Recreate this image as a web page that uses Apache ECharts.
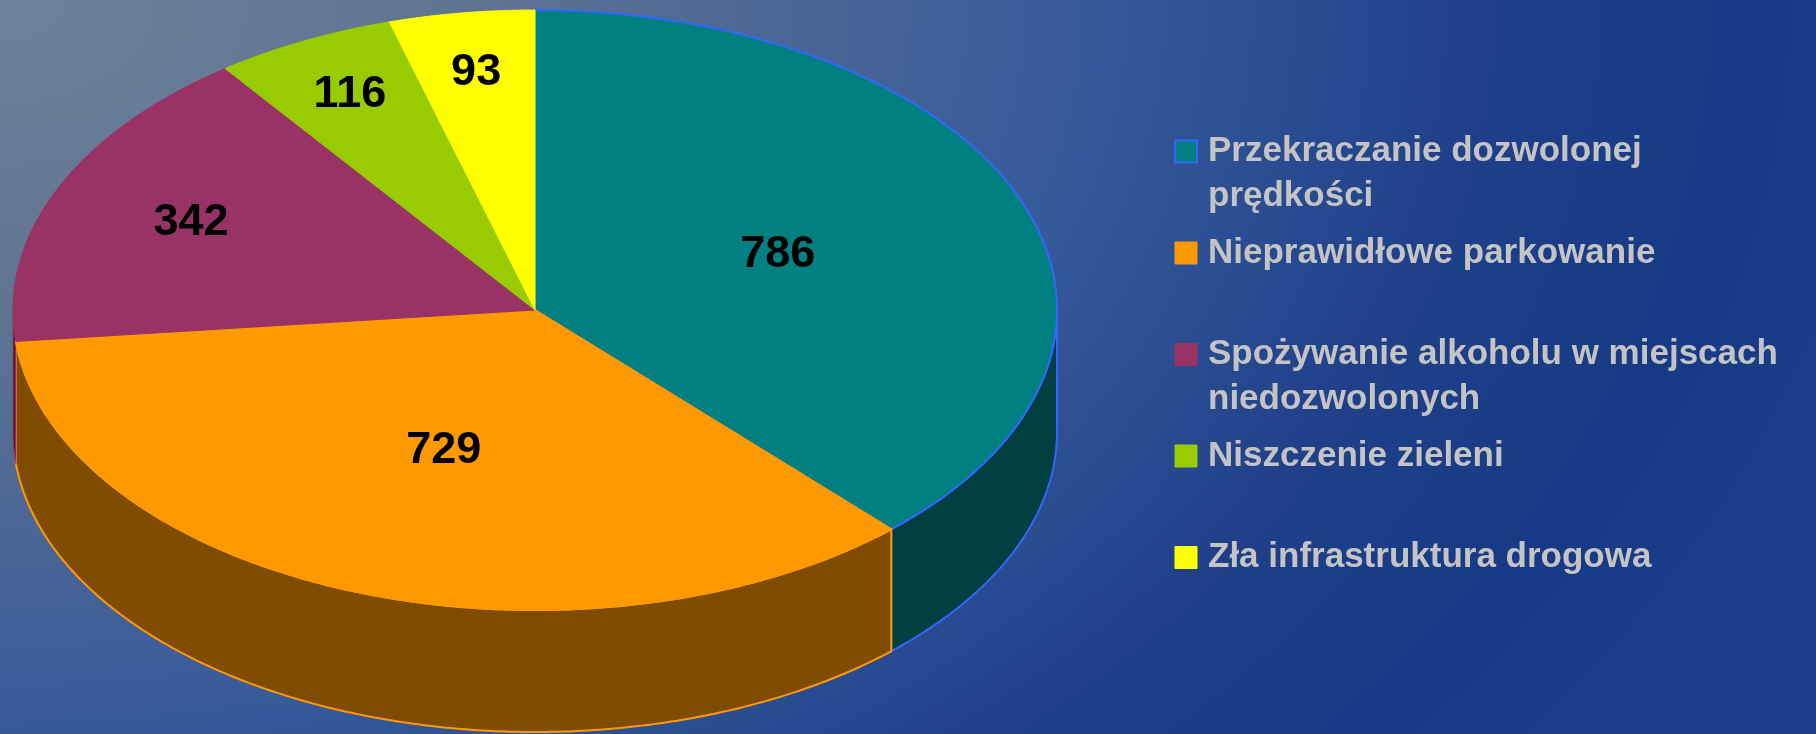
<!DOCTYPE html>
<html>
<head>
<meta charset="utf-8">
<title>Wykroczenia</title>
<script src="https://cdn.jsdelivr.net/npm/echarts@6/dist/echarts.min.js"></script>
<style>
  html, body { margin: 0; padding: 0; overflow: hidden; }
  #chart {
    width: 1816px;
    height: 734px;
    background: radial-gradient(ellipse 1900px 1270px at 0 0,
      #6d819b 0%, #5f7492 25%, #36599a 58%, #1f4089 78%, #163a85 92%, #1b3d8a 100%);
  }
</style>
</head>
<body>
<div id="chart"></div>
<script>
// dane wykresu
const categories = [
  'Przekraczanie dozwolonej\nprędkości',
  'Nieprawidłowe parkowanie',
  'Spożywanie alkoholu w miejscach\nniedozwolonych',
  'Niszczenie zieleni',
  'Zła infrastruktura drogowa'
];
const values = [786, 729, 342, 116, 93];

// kolory: wierzch, bok, krawędź
const topColors = ['#008080', '#FF9900', '#993366', '#99CC00', '#FFFF00'];
const sideColors = ['#004040', '#804C00', '#4D1A33', '#4D6600', '#808000'];
const edgeColors = ['#3366FF', '#FF9900', '#993366', '#99CC00', '#FFFF00'];
const labelRadius = [0.5, 0.5, 0.72, 0.8, 0.8];

// geometria pochylonego tortu (px)
const CX = 535, CY = 310, RX = 522, RY = 300, DEPTH = 122;

const total = values.reduce((s, v) => s + v, 0);
const starts = values.map((_, i) =>
  values.slice(0, i).reduce((s, v) => s + v, 0) / total * Math.PI * 2);

const pt = (t, dy) => [CX + RX * Math.sin(t), CY - RY * Math.cos(t) + dy];
const arc = (t0, t1, dy) => {
  const n = Math.max(2, Math.ceil((t1 - t0) / (Math.PI / 360)));
  const out = [];
  for (let k = 0; k <= n; k++) out.push(pt(t0 + (t1 - t0) * k / n, dy));
  return out;
};

const makeRenderItem = (i) => (params, api) => {
  const t0 = starts[i];
  const t1 = t0 + api.value(0) / total * Math.PI * 2;
  const lw = i < 2 ? 2 : 1;
  const children = [];
  // bok widoczny tylko w przedniej połowie
  const s0 = Math.max(t0, Math.PI / 2), s1 = Math.min(t1, Math.PI * 1.5);
  if (s1 > s0) {
    const up = arc(s0, s1, 0);
    const down = arc(s0, s1, DEPTH).reverse();
    children.push({
      type: 'polygon', z2: 1,
      shape: { points: up.concat(down) },
      style: { fill: sideColors[i], stroke: edgeColors[i], lineWidth: lw }
    });
  }
  children.push({
    type: 'polygon', z2: 2,
    shape: { points: [[CX, CY]].concat(arc(t0, t1, 0)) },
    style: { fill: topColors[i], stroke: edgeColors[i], lineWidth: lw }
  });
  const tm = (t0 + t1) / 2, r = labelRadius[i];
  children.push({
    type: 'text', z2: 3,
    x: CX + RX * r * Math.sin(tm),
    y: CY - RY * r * Math.cos(tm),
    style: {
      text: String(api.value(0)),
      fill: '#000', fontSize: 45, fontWeight: 'bold',
      fontFamily: 'Liberation Sans, Arial, sans-serif',
      align: 'center', verticalAlign: 'middle'
    }
  });
  return { type: 'group', children };
};

const chart = echarts.init(document.getElementById('chart'));
chart.setOption({
  animation: false,
  legend: {
    orient: 'vertical',
    left: 1174, top: 84,
    padding: 0,
    itemGap: -33.5,
    itemWidth: 22, itemHeight: 22,
    icon: 'rect',
    selectedMode: false,
    data: categories.map((name, i) => ({
      name,
      itemStyle: {
        color: topColors[i],
        borderColor: edgeColors[i],
        borderWidth: i === 0 ? 2 : 1
      }
    })),
    // pierwsza linia opisu wyrównana z kwadratem
    formatter: (name) => '\n' + name + (name.indexOf('\n') < 0 ? '\n' : ''),
    textStyle: {
      color: '#C4C4C4', fontSize: 35, fontWeight: 'bold',
      fontFamily: 'Liberation Sans, Arial, sans-serif',
      lineHeight: 45, padding: [0, 0, 0, 6]
    }
  },
  series: categories.map((name, i) => ({
    type: 'custom',
    name,
    coordinateSystem: 'none',
    silent: true,
    itemStyle: { color: topColors[i] },
    renderItem: makeRenderItem(i),
    data: [[values[i]]]
  }))
});
window.addEventListener('resize', () => chart.resize());
</script>
</body>
</html>
